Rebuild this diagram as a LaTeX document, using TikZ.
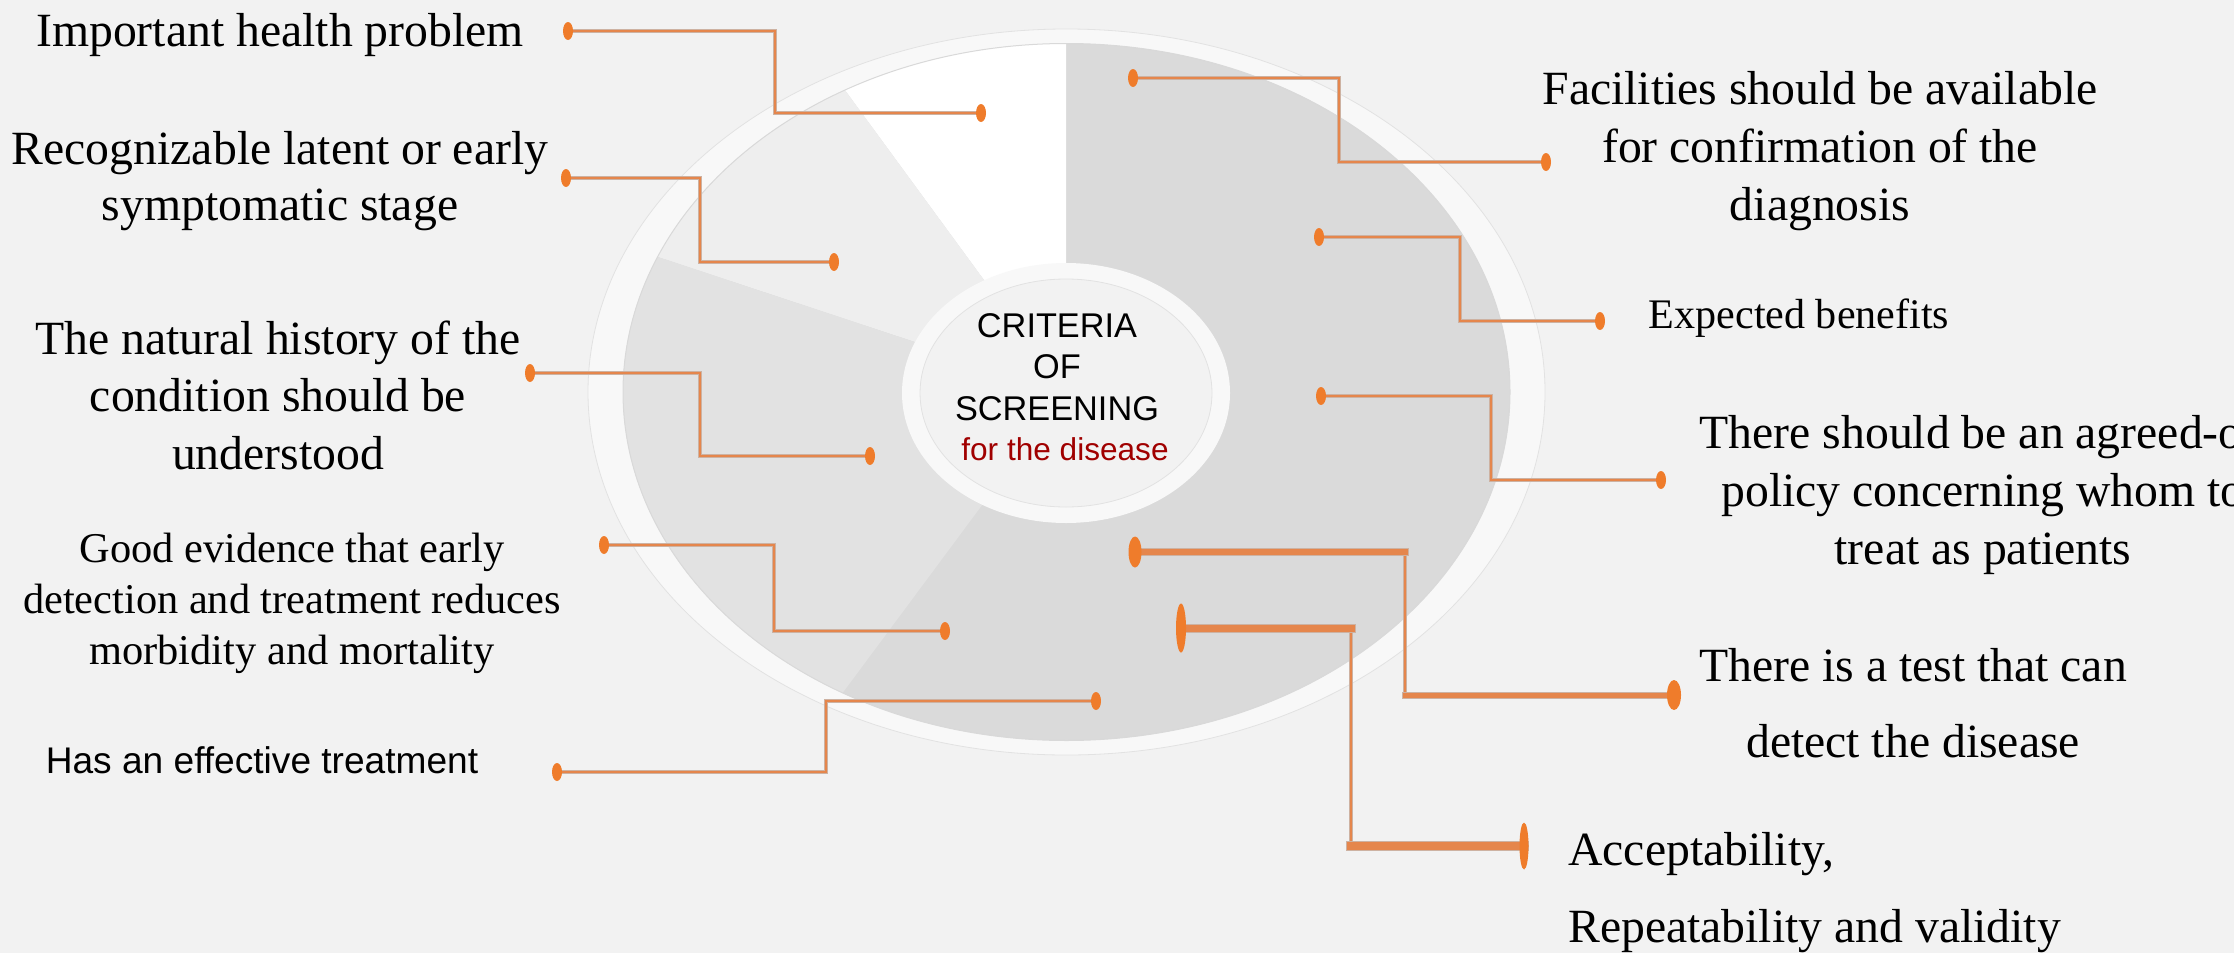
\documentclass[tikz,border=0pt]{standalone}
\usepackage{fontspec}
\setmainfont{Liberation Serif}
\newfontfamily\arialfont{Liberation Sans}
\usetikzlibrary{shapes.geometric}
\pgfdeclarelayer{paper}
\pgfdeclarelayer{disc}
\pgfdeclarelayer{wires}
\pgfsetlayers{paper,disc,wires,main}

\definecolor{canvas}{HTML}{F2F2F2}
\definecolor{ringcol}{HTML}{F8F8F8}
\definecolor{ringedge}{HTML}{E2E2E2}
\definecolor{sliceright}{HTML}{DADADA}
\definecolor{slicetop}{HTML}{FFFFFF}
\definecolor{sliceupper}{HTML}{EEEEEE}
\definecolor{slicelower}{HTML}{E2E2E2}
\definecolor{wire}{HTML}{E5864C}
\definecolor{wirerim}{HTML}{CDB2A2}
\definecolor{knob}{HTML}{EF7C2B}
\definecolor{subtitle}{HTML}{A00000}

\begin{document}
\begin{tikzpicture}[x=1pt,y=-1pt,
  knobnode/.style={ellipse, fill=knob, inner sep=0pt, minimum width=10pt, minimum height=18pt},
  bigknob/.style={ellipse, fill=knob, inner sep=0pt},
  wireline/.style={draw=wire, line width=2.6pt, preaction={draw=wirerim, line width=4pt}},
  heavywire/.style={draw=wire, line width=#1, line cap=rect, preaction={draw=wirerim, line width=#1+2pt, line cap=rect}},
  caption/.style={anchor=base, align=center, inner sep=0pt, text=black}
]
% page
\begin{pgfonlayer}{paper}
  \fill[canvas] (0,0) rectangle (2234,953);
\end{pgfonlayer}
\useasboundingbox (0,0) rectangle (2234,953);

% ---------- the disc ----------
\begin{pgfonlayer}{disc}
  \fill[ringcol, draw=ringedge, line width=0.8pt] (1066.5,392) ellipse [x radius=478.5, y radius=363];
  \fill[sliceright] (1066.5,392) ellipse [x radius=443.5, y radius=348.5];
  \begin{scope}
    \clip (1066.5,392) ellipse [x radius=443.5, y radius=348.5];
    \fill[slicetop]   (1066,392) -- (1066,-400) -- (418,-493) -- cycle;
    \fill[sliceupper] (1066,392) -- (418,-493) -- (-140,-7) -- cycle;
    \fill[slicelower] (1066,392) -- (-140,-7) -- (409,1277) -- cycle;
  \end{scope}
  \draw[black!15, line width=1pt] (1066.5,392) ellipse [x radius=443.5, y radius=348.5];
  % hub
  \fill[ringcol] (1066,393) ellipse [x radius=164, y radius=130];
  \fill[canvas, draw=ringedge, line width=0.8pt] (1066,393) ellipse [x radius=146, y radius=114];
\end{pgfonlayer}

% ---------- hub text (anchored on the last baseline) ----------
\node[caption, font=\arialfont\fontsize{34.3}{41.5}\selectfont] (hub) at (1057,420)
  {CRITERIA\\OF\\SCREENING};
\node[caption, font=\arialfont\fontsize{31.6}{38}\selectfont, text=subtitle] (hubsub) at (1065,460)
  {for the disease};

% ---------- end knobs ----------
\node[knobnode] (c1l) at (568,31) {};
\node[knobnode] (c1r) at (981,113) {};
\node[knobnode] (c2l) at (566,178) {};
\node[knobnode] (c2r) at (834,262) {};
\node[knobnode] (c3l) at (530,373) {};
\node[knobnode] (c3r) at (870,456) {};
\node[knobnode] (c4l) at (604,545) {};
\node[knobnode] (c4r) at (945,631) {};
\node[knobnode] (c5l) at (557,772) {};
\node[knobnode] (c5r) at (1096,701) {};
\node[knobnode] (c6l) at (1133,78) {};
\node[knobnode] (c6r) at (1546,162) {};
\node[knobnode] (c7l) at (1319,237) {};
\node[knobnode] (c7r) at (1600,321) {};
\node[knobnode] (c8l) at (1321,396) {};
\node[knobnode] (c8r) at (1661,480) {};
\node[bigknob, minimum width=13pt, minimum height=31pt] (c9l) at (1135,552) {};
\node[bigknob, minimum width=14pt, minimum height=30pt] (c9r) at (1674,695) {};
\node[bigknob, minimum width=10pt, minimum height=49pt] (c10l) at (1181,628) {};
\node[bigknob, minimum width=9pt, minimum height=47pt] (c10r) at (1524,846) {};

% bend columns of the elbow connectors
\coordinate (k1) at (775,0);
\coordinate (k2) at (700,0);
\coordinate (k3) at (700,0);
\coordinate (k4) at (774,0);
\coordinate (k5) at (826,0);
\coordinate (k6) at (1339,0);
\coordinate (k7) at (1460,0);
\coordinate (k8) at (1491,0);
\coordinate (k9) at (1405,0);
\coordinate (k10) at (1351,0);

\begin{pgfonlayer}{wires}
  \draw[wireline] (c1l.center) -| (c1r.center -| k1) -- (c1r.center);
  \draw[wireline] (c2l.center) -| (c2r.center -| k2) -- (c2r.center);
  \draw[wireline] (c3l.center) -| (c3r.center -| k3) -- (c3r.center);
  \draw[wireline] (c4l.center) -| (c4r.center -| k4) -- (c4r.center);
  \draw[wireline] (c5l.center) -| (c5r.center -| k5) -- (c5r.center);
  \draw[wireline] (c6l.center) -| (c6r.center -| k6) -- (c6r.center);
  \draw[wireline] (c7l.center) -| (c7r.center -| k7) -- (c7r.center);
  \draw[wireline] (c8l.center) -| (c8r.center -| k8) -- (c8r.center);
  % heavy connectors
  \draw[wireline] (c9l.center -| k9) -- (c9r.center -| k9);
  \draw[heavywire=6pt] (c9l.center) -- (c9l.center -| k9);
  \draw[heavywire=5pt] (c9r.center -| k9) -- (c9r.center);
  \draw[wireline] (c10l.center -| k10) -- (c10r.center -| k10);
  \draw[heavywire=7pt] (c10l.center) -- (c10l.center -| k10);
  \draw[heavywire=8pt] (c10r.center -| k10) -- (c10r.center);
\end{pgfonlayer}

% ---------- criteria (each anchored on its last baseline) ----------
\node[caption, font=\fontsize{47.7}{58}\selectfont] (t1) at (280,46)
  {Important health problem};
\node[caption, font=\fontsize{47.7}{56}\selectfont] (t2) at (280,220)
  {Recognizable latent or early\\symptomatic stage};
\node[caption, font=\fontsize{47.7}{57.5}\selectfont] (t3) at (278,469)
  {The natural history of the\\condition should be\\understood};
\node[caption, font=\fontsize{42.4}{51}\selectfont] (t4) at (292,664)
  {Good evidence that early\\detection and treatment reduces\\morbidity and mortality};
\node[caption, font=\arialfont\fontsize{37.1}{44}\selectfont] (t5) at (262,773)
  {Has an effective treatment};
\node[caption, font=\fontsize{47.7}{58}\selectfont] (t6) at (1820,220)
  {Facilities should be available\\for confirmation of the\\diagnosis};
\node[caption, font=\fontsize{42.1}{58}\selectfont] (t7) at (1799,328)
  {Expected benefits};
\node[caption, font=\fontsize{47.7}{58}\selectfont] (t8) at (1983,564)
  {There should be an agreed-on\\policy concerning whom to\\treat as patients};
\node[caption, font=\fontsize{47.7}{76}\selectfont] (t9) at (1913,757)
  {There is a test that can\\detect the disease};
\node[caption, anchor=base west, align=left, font=\fontsize{47.7}{77}\selectfont] (t10) at (1568,942)
  {Acceptability,\\Repeatability and validity};
\end{tikzpicture}
\end{document}
